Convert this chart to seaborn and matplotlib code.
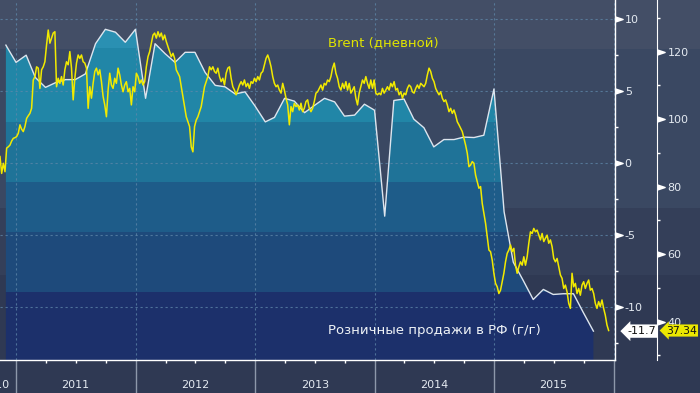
import matplotlib
matplotlib.use("Agg")
import pandas as pd
import matplotlib.pyplot as plt
import matplotlib.dates as mdates
from matplotlib.patches import Rectangle
from matplotlib.ticker import NullFormatter
import seaborn as sns

# --- data ---
# Retail sales in Russia, y/y %, month-end, Nov 2010 .. Oct 2015
retail_months = pd.date_range("2010-11-30", periods=60, freq="ME")
retail_yoy = [
    8.2, 7.0, 7.5, 5.95, 5.26, 5.58, 5.8, 5.8, 6.2, 8.3,
    9.3, 9.1, 8.4, 9.3, 4.5, 8.3, 7.6, 7.0, 7.7, 7.7,
    6.3, 5.4, 5.3, 4.8, 4.95, 3.95, 2.86, 3.17, 4.5, 4.3,
    3.5, 4.0, 4.5, 4.25, 3.26, 3.33, 4.09, 3.67, -3.7, 4.35,
    4.45, 3.05, 2.45, 1.12, 1.63, 1.63, 1.8, 1.77, 1.93, 5.15,
    -3.4, -6.9, -8.2, -9.5, -8.8, -9.15, -9.1, -9.1, -10.4, -11.7,
]

# Brent, USD/bbl, sampled every ~5 days from 12 Nov 2010 to mid Dec 2015
brent_start = "2010-11-12"
brent_step = "122h"
brent_usd = [
    88.9, 83.9, 86.9, 84.4, 91.4, 91.8, 92.3, 93.5, 94.3, 94.5,
    94.8, 95.8, 98.3, 97.0, 96.3, 97.8, 100.2, 101.0, 101.7, 103.2,
    111.6, 112.6, 115.5, 115.1, 109.1, 114.6, 115.5, 117.0, 122.0, 126.4,
    122.5, 124.0, 125.5, 125.9, 109.6, 112.1, 110.6, 112.6, 110.1, 114.6,
    117.0, 116.1, 120.0, 115.1, 105.7, 112.1, 116.6, 119.0, 118.0, 119.0,
    117.0, 116.6, 115.1, 103.2, 109.6, 106.2, 110.6, 114.1, 115.1, 113.1,
    114.6, 111.1, 106.7, 104.2, 100.7, 108.6, 113.6, 110.1, 109.1, 112.1,
    110.6, 115.1, 113.1, 110.1, 108.1, 110.1, 111.1, 108.1, 109.1,
    # 2012
    104.2, 109.6, 108.1, 113.6, 112.6, 110.6, 111.6, 110.1, 111.1, 115.5,
    118.5, 120.0, 122.5, 124.9, 125.5, 124.0, 125.9, 124.4, 125.5, 123.5,
    124.9, 123.0, 121.5, 120.0, 118.5, 119.5, 118.0, 114.6, 113.6, 112.6,
    109.6, 106.7, 103.7, 100.7, 99.2, 97.8, 91.8, 90.3, 97.8, 99.7,
    100.7, 102.2, 103.7, 106.7, 109.6, 111.1, 112.6, 115.5, 114.6, 115.5,
    114.1, 113.6, 115.1, 112.6, 111.1, 112.1, 110.1, 113.6, 115.1, 115.5,
    112.1, 109.6, 108.6, 107.2, 108.6, 110.1, 111.1, 110.1, 111.6, 109.6,
    110.6, 109.1, 111.1, 110.6,
    # 2013
    112.1, 111.1, 112.6, 111.6, 113.6, 114.1, 116.1, 118.0, 119.0, 117.5,
    115.5, 112.6, 110.6, 109.6, 110.1, 108.6, 107.7, 110.6, 108.6, 106.2,
    104.2, 98.3, 103.7, 102.2, 104.7, 103.7, 104.2, 102.7, 104.7, 102.2,
    103.2, 105.2, 105.7, 103.2, 102.2, 103.2, 105.2, 107.7, 108.1, 109.1,
    110.1, 108.6, 110.6, 110.1, 111.6, 111.1, 112.6, 115.1, 116.6, 113.6,
    112.1, 109.6, 108.6, 110.6, 109.1, 111.1, 108.6, 110.6, 107.7, 108.6,
    109.6, 106.2, 104.2, 107.7, 109.6, 111.6, 110.6, 112.6, 110.6, 109.1,
    111.6, 109.1, 111.6, 107.7, 107.2, 107.7, 107.2, 109.1, 107.7, 108.6,
    109.6,
    # 2014
    108.6, 110.6, 109.6, 111.1, 108.6, 109.1, 107.2, 108.1, 106.2, 107.7,
    107.2, 109.1, 110.1, 109.6, 108.1, 107.7, 109.1, 110.1, 109.1, 110.6,
    110.1, 109.6, 110.6, 113.1, 115.1, 114.1, 112.1, 111.1, 109.1, 108.1,
    107.2, 108.1, 106.2, 105.2, 105.7, 104.2, 102.2, 103.2, 101.7, 102.7,
    101.2, 99.2, 98.3, 97.3, 96.3, 94.3, 92.3, 89.9, 85.9, 86.4,
    87.4, 86.9, 83.4, 81.4, 79.5, 80.0, 75.0, 72.1, 69.1, 65.1,
    61.2, 60.7, 58.2, 54.3, 51.3, 50.3, 48.3, 49.3, 51.8, 54.3,
    57.7, 60.2,
    # 2015
    61.2, 62.7, 60.7, 61.7, 56.7, 54.3, 56.2, 57.7, 56.7, 59.2,
    56.7, 59.2, 63.2, 66.6, 66.1, 67.6, 66.6, 67.1, 65.6, 64.2,
    66.1, 63.7, 64.7, 65.6, 63.2, 64.2, 62.2, 58.7, 57.7, 58.7,
    56.2, 53.8, 52.8, 49.8, 50.8, 48.8, 45.4, 43.9, 54.3, 50.3,
    51.3, 48.3, 49.8, 47.8, 50.8, 51.8, 49.8, 51.3, 52.3, 49.3,
    49.8, 48.3, 45.4, 43.9, 45.9, 44.4, 46.4, 43.9, 41.9, 39.0,
    37.34,
]
brent_dates = pd.date_range(brent_start, periods=len(brent_usd), freq=brent_step)

years = [2011, 2012, 2013, 2014, 2015]
retail_ticks = [-10, -5, 0, 5, 10]
retail_minor = [-12.5, -7.5, -2.5, 2.5, 7.5]
brent_ticks = [40, 60, 80, 100, 120]
brent_minor = [30, 50, 70, 90, 110, 130]

label_brent = "Brent (дневной)"
label_retail = "Розничные продажи в РФ (г/г)"

# --- colours ---
bg_bands = [(0.0, 0.300, "#2f3953"), (0.300, 0.471, "#343f59"),
            (0.471, 0.875, "#3a4862"), (0.875, 1.0, "#434e66")]
fill_bands = [(0.0, 0.189, "#1c306b"), (0.189, 0.356, "#1e4a7b"),
              (0.356, 0.494, "#1e5c89"), (0.494, 0.661, "#1f7398"),
              (0.661, 0.867, "#2186a7"), (0.867, 1.0, "#2a90b2")]
yellow = "#f2ea00"
tick_col = "#e4eaf1"
tri = [(0, -1), (3, 0), (0, 1)]  # flag-like tick marker

plt.rcParams["font.family"] = ["DejaVu Sans"]

fig = plt.figure(figsize=(7, 3.93), dpi=100)
fig.patch.set_facecolor("#2f3953")
for y0, y1, c in bg_bands:
    fig.add_artist(Rectangle((0, y0), 1, y1 - y0, transform=fig.transFigure,
                             facecolor=c, edgecolor="none", zorder=-10))

ax = fig.add_axes([0, 33 / 393, 615 / 700, 360 / 393])
ax.set_facecolor("none")

# banded area under the retail line
poly = ax.fill_between(retail_months, retail_yoy, -30, facecolor="none", edgecolor="none")
clip = poly.get_paths()[0]
for y0, y1, c in fill_bands:
    r = Rectangle((0, y0), 1, y1 - y0, transform=ax.transAxes,
                  facecolor=c, edgecolor="none", zorder=1)
    ax.add_patch(r)
    r.set_clip_path(clip, ax.transData)

sns.lineplot(x=retail_months, y=retail_yoy, ax=ax, color="#dde5ee", linewidth=1.0, zorder=3)

# Brent on its own scale (twinx resets the left axis, so set ticks after)
ax2 = ax.twinx()
ax2.set_facecolor("none")
sns.lineplot(x=brent_dates, y=brent_usd, ax=ax2, color=yellow, linewidth=1.1, zorder=4)

ax.set_xlim(pd.Timestamp("2010-11-12"), pd.Timestamp("2016-01-05"))
ax.set_ylim(-13.71, 11.34)
ax2.set_ylim(28.6, 135.3)
for a in (ax, ax2):
    a.set_xlabel("")
    a.set_ylabel("")

# grid
ax.grid(True, which="major", color="#5f88aa", linestyle=(0, (2, 2.5)), linewidth=0.8, alpha=0.75)

# spines
for s in ["left", "top"]:
    ax.spines[s].set_visible(False)
for s in ["right", "bottom"]:
    ax.spines[s].set_color("white")
    ax.spines[s].set_linewidth(1.0)
for s in ["left", "top", "bottom"]:
    ax2.spines[s].set_visible(False)
ax2.spines["right"].set_position(("axes", 657 / 615))
ax2.spines["right"].set_color("white")

# retail axis (right, inner)
ax.yaxis.tick_right()
ax.set_yticks(retail_ticks)
ax.set_yticklabels([str(v) for v in retail_ticks])
ax.set_yticks(retail_minor, minor=True)
ax.tick_params(axis="y", which="both", left=False, right=True, labelleft=False, labelright=True)
ax.tick_params(axis="y", which="major", length=0, pad=7, labelcolor=tick_col, labelsize=8)
ax.tick_params(axis="y", which="minor", length=2.5, width=1, color="white")
ax.plot([1] * len(retail_ticks), retail_ticks, transform=ax.get_yaxis_transform(),
        marker=tri, ms=11, color="white", ls="none", clip_on=False, zorder=6)

# x axis: long year separators, quarter ticks, centred year labels
ax.xaxis.set_major_locator(mdates.YearLocator())
ax.xaxis.set_major_formatter(NullFormatter())
ax.xaxis.set_minor_locator(mdates.MonthLocator(bymonth=[4, 7, 10]))
ax.xaxis.set_minor_formatter(NullFormatter())
ax.tick_params(axis="x", which="major", length=24, width=1, color="#8d98aa")
ax.tick_params(axis="x", which="minor", length=2.5, width=1, color="white")
for yr in years:
    ax.text(pd.Timestamp(f"{yr}-07-01"), -0.069, str(yr), transform=ax.get_xaxis_transform(),
            ha="center", va="center", color=tick_col, fontsize=8)
ax.text(pd.Timestamp("2010-12-10"), -0.069, "2010", transform=ax.get_xaxis_transform(),
        ha="right", va="center", color=tick_col, fontsize=8)

# Brent axis (right, outer)
ax2.set_yticks(brent_ticks)
ax2.set_yticklabels([str(v) for v in brent_ticks])
ax2.set_yticks(brent_minor, minor=True)
ax2.tick_params(axis="y", which="major", length=0, pad=7.5, labelcolor=tick_col, labelsize=8)
ax2.tick_params(axis="y", which="minor", length=2.5, width=1, color="white")
ax2.plot([657 / 615] * len(brent_ticks), brent_ticks, transform=ax2.get_yaxis_transform(),
         marker=tri, ms=11, color="white", ls="none", clip_on=False, zorder=6)

# series labels
ax.text(0.623, 0.881, label_brent, transform=ax.transAxes, color="#e0e400",
        fontsize=9.5, ha="center", va="center", zorder=7)
ax.text(0.707, 0.081, label_retail, transform=ax.transAxes, color="#eef2f6",
        fontsize=9.5, ha="center", va="center", zorder=7)

# last-value tags
ax.annotate(f"{retail_yoy[-1]:.1f}", xy=(1, retail_yoy[-1]), xycoords=ax.get_yaxis_transform(),
            xytext=(9, 0), textcoords="offset points", ha="left", va="center",
            fontsize=8, color="#111111", annotation_clip=False, zorder=10,
            bbox=dict(boxstyle="larrow,pad=0.15", fc="white", ec="none"))
ax2.annotate(f"{brent_usd[-1]:.2f}", xy=(657 / 615, brent_usd[-1]), xycoords=ax2.get_yaxis_transform(),
             xytext=(6.5, 0), textcoords="offset points", ha="left", va="center",
             fontsize=7.8, color="#111111", annotation_clip=False, zorder=10,
             bbox=dict(boxstyle="larrow,pad=0.1", fc="#ece800", ec="none"))

fig.savefig("out.png", dpi=100, facecolor=fig.get_facecolor())
